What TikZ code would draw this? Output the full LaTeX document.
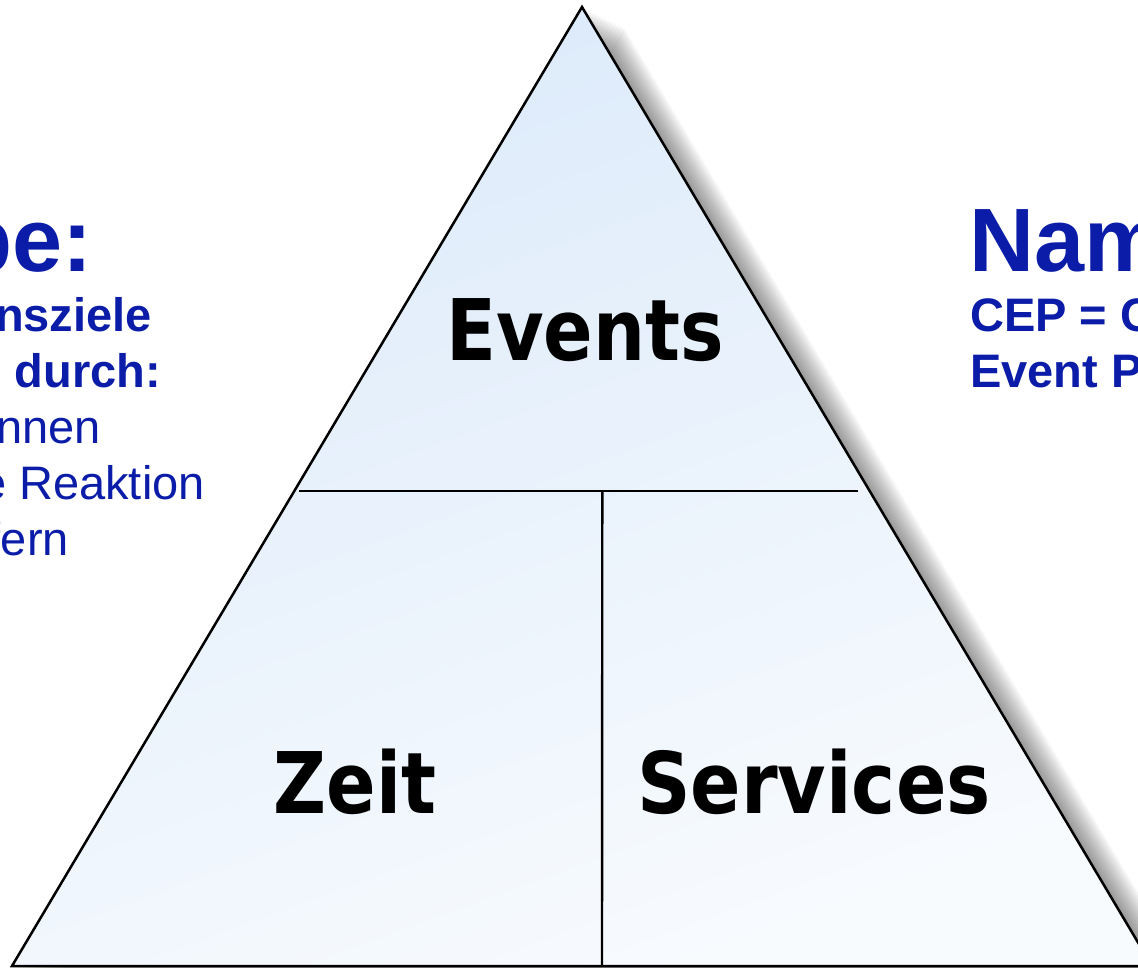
\documentclass[tikz,border=0pt]{standalone}
\usepackage{fontspec}
\setmainfont{Liberation Sans}
\newfontfamily\verdanafont{DejaVu Sans}
\usetikzlibrary{calc}

\definecolor{titleblue}{RGB}{10,28,168}
\definecolor{paleblue}{RGB}{220,234,250}
\definecolor{paleend}{RGB}{248,251,254}

\begin{document}
\begin{tikzpicture}[x=1pt, y=-1pt,
        edge/.style={black, line width=2.5pt, line join=miter},
        split/.style={black, line width=2.4pt},
        part/.style={font=\verdanafont\bfseries\fontsize{85}{90}\selectfont, inner sep=0pt, anchor=base},
        head/.style={titleblue, font=\bfseries\fontsize{90}{100}\selectfont, inner sep=0pt},
        bline/.style={titleblue, font=\bfseries\fontsize{47}{56}\selectfont, inner sep=0pt},
        nline/.style={titleblue, font=\fontsize{47}{56}\selectfont, inner sep=0pt},
    ]
    \useasboundingbox (0,0) rectangle (1138,967);
    \clip (0,0) rectangle (1138,967);

    \coordinate (top) at (582,7);
    \coordinate (left) at (12,966);
    \coordinate (right) at (1152,966);

    % soft shadow
    \foreach \s in {1,...,14} {
        \fill[black, opacity=0.036] ($(top)+(3*\s,1.5*\s)$) -- ($(left)+(3*\s,1.5*\s)$) -- ($(right)+(3*\s,1.5*\s)$) -- cycle;
    }

    \shade[top color=paleblue, bottom color=paleend, shading angle=20] (top) -- (left) -- (right) -- cycle;
    \draw[edge] (top) -- (left) -- (right) -- cycle;

    \coordinate (midl) at (299,491);
    \coordinate (midr) at (858,491);
    \coordinate (midb) at (602,966);
    \draw[split] (midl) -- (midr);
    \draw[split] ($(midl)!0.5426!(midr)$) -- (midb);

    \node[part] (events) at (585,360) {\scalebox{0.86}[1]{Events}};
    \node[part] (zeit) at (355,813) {\scalebox{0.86}[1]{Zeit}};
    \node[part] (services) at (814,813) {\scalebox{0.875}[1]{Services}};

    \node[head, anchor=base east] (task) at (93,271) {be:};
    \node[bline, anchor=base east] (goals) at (152,331) {nsziele};
    \node[bline, anchor=base east] (via) at (161,387) {durch:};
    \node[nline, anchor=base east] (seen) at (101,443) {nnen};
    \node[nline, anchor=base east] (react) at (205,499) {e Reaktion};
    \node[nline, anchor=base east] (deliver) at (69,555) {fern};

    \node[head, anchor=base west] (name) at (969,271) {Nam};
    \node[bline, anchor=base west] (cep) at (970,331) {CEP = C};
    \node[bline, anchor=base west] (proc) at (970,387) {Event P};
\end{tikzpicture}
\end{document}
